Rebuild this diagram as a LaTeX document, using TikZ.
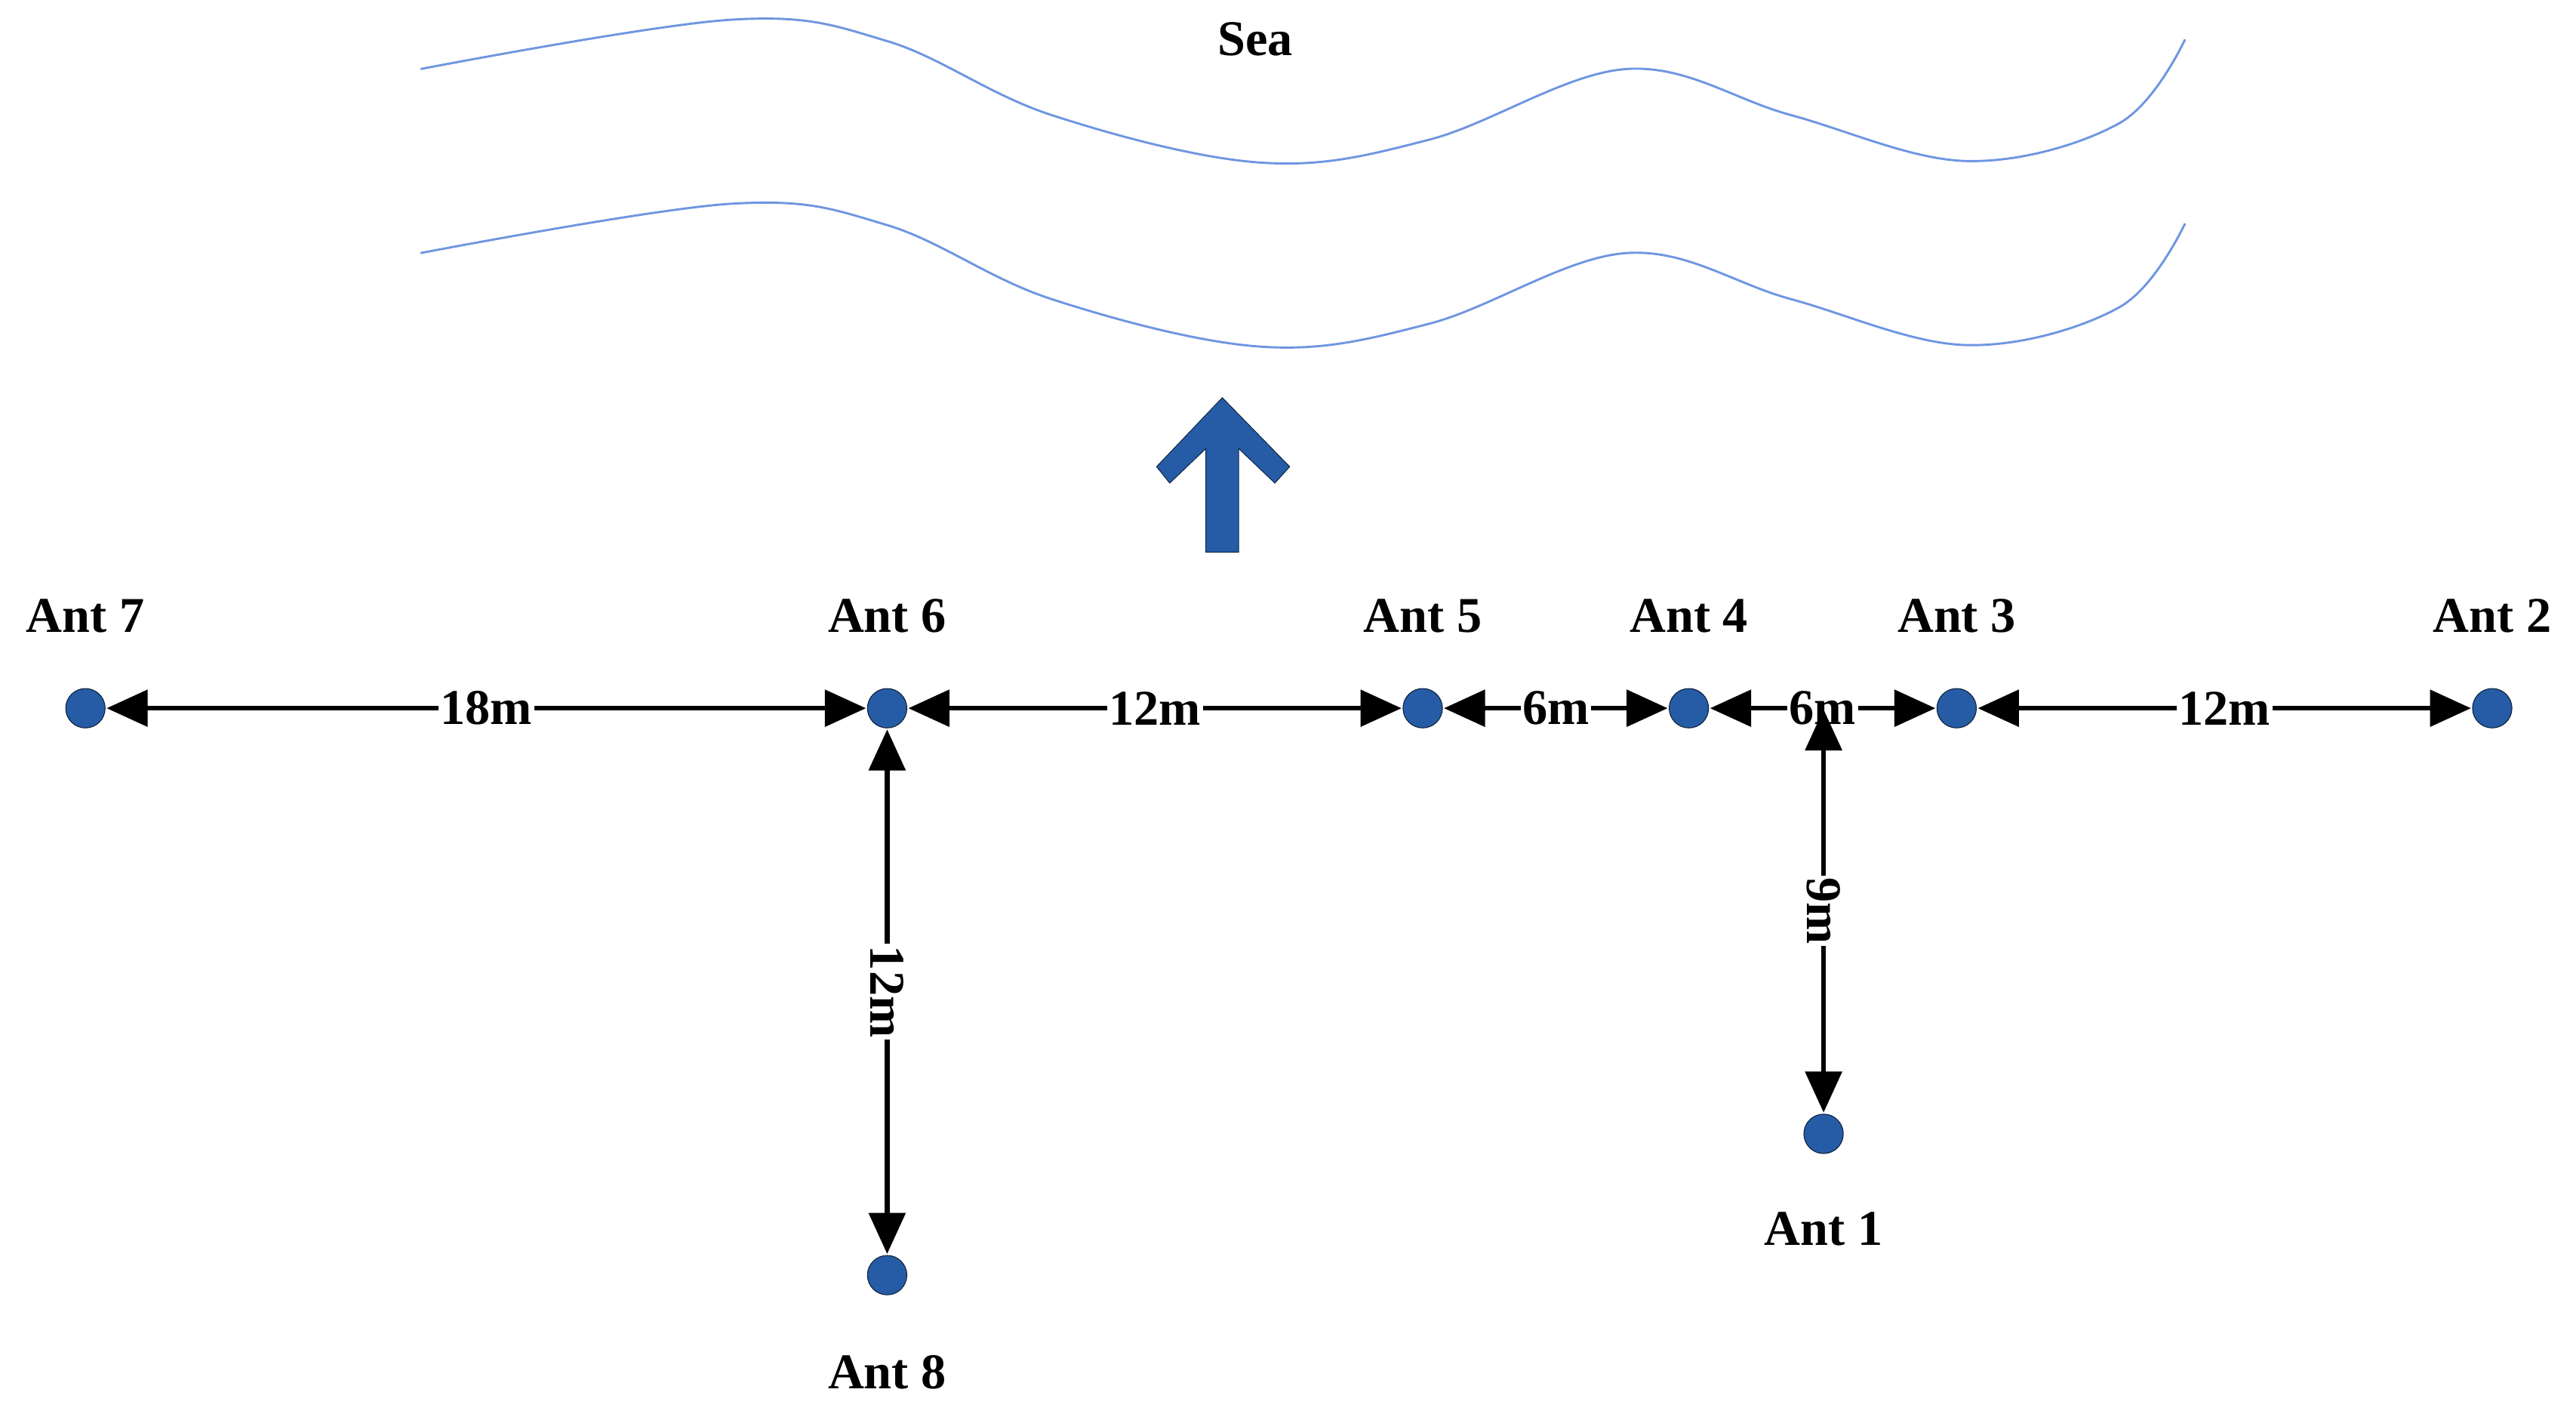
\documentclass[tikz,border=0pt]{standalone}
\usepackage{fontspec}
\setmainfont{Liberation Serif}
\usetikzlibrary{arrows.meta}
\definecolor{dotblue}{RGB}{38,92,166}
\definecolor{wave}{RGB}{110,150,225}
\begin{document}
\begin{tikzpicture}[x=0.3mm,y=-0.3mm,
  ant/.style={circle,fill=dotblue,draw=black!70!dotblue,line width=0.4pt,minimum size=7.2mm,inner sep=0pt},
  lbl/.style={font=\fontsize{26}{30}\selectfont\bfseries},
  dim/.style={line width=0.9mm,{Triangle[length=7.5mm,width=6.6mm]}-{Triangle[length=7.5mm,width=6.6mm]},shorten <=0.2mm,shorten >=0.2mm},
  dl/.style={fill=white,inner sep=1pt,font=\fontsize{26}{30}\selectfont\bfseries}]
\useasboundingbox (0,0) rectangle (1568,862);
\node[ant] (a7) at (52,431) {};
\node[ant] (a6) at (540,431) {};
\node[ant] (a5) at (866,431) {};
\node[ant] (a4) at (1028,431) {};
\node[ant] (a3) at (1191,431) {};
\node[ant] (a2) at (1517,431) {};
\node[ant] (a1) at (1110,690) {};
\node[ant] (a8) at (540,776) {};
\coordinate (c9) at (1110,431);
\node[lbl] (l7) at (52,375) {Ant 7};
\node[lbl] (l6) at (540,375) {Ant 6};
\node[lbl] (l5) at (866,375) {Ant 5};
\node[lbl] (l4) at (1028,375) {Ant 4};
\node[lbl] (l3) at (1191,375) {Ant 3};
\node[lbl] (l2) at (1517,375) {Ant 2};
\node[lbl] (l1) at (1110,748) {Ant 1};
\node[lbl] (l8) at (540,835) {Ant 8};
\node[lbl] (sea) at (764,24) {Sea};
\draw[dim] (a7) -- node[dl,pos=0.5]{18m} (a6);
\draw[dim] (a6) -- node[dl]{12m} (a5);
\draw[dim] (a5) -- node[dl]{6m} (a4);
\draw[dim] (a4) -- node[dl]{6m} (a3);
\draw[dim] (a3) -- node[dl]{12m} (a2);
\draw[dim] (a6) -- node[dl,rotate=-90]{12m} (a8);
\draw[dim] (c9) -- node[dl,rotate=-90,pos=0.5]{9m} (a1);
\foreach \dy in {0,112}{
\draw[wave,line width=0.4mm,yshift=-\dy*0.3mm] plot[smooth,tension=0.6] coordinates
 {(256,42) (445,12) (540,25) (640,70) (768,99) (870,85) (990,42) (1090,70) (1197,98) (1290,75) (1330,24)};}
\fill[dotblue,draw=black!60!dotblue,line width=0.4pt] (744,242) -- (785,284) -- (776,294) -- (754,273) -- (754,336) -- (734,336) -- (734,273) -- (712,294) -- (704,284) -- cycle;
\end{tikzpicture}
\end{document}
